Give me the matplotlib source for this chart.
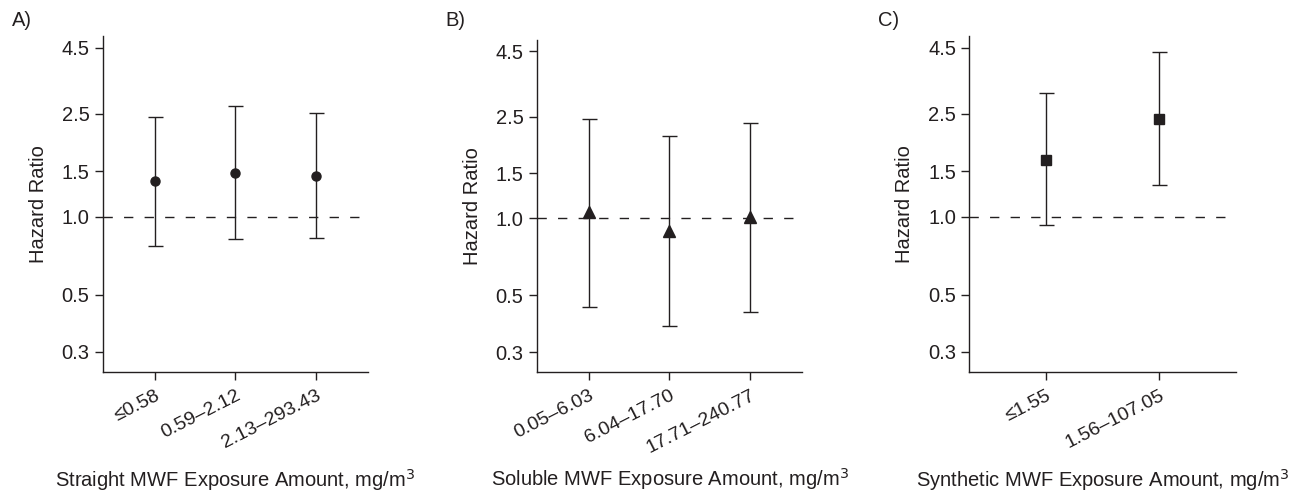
"""Hazard ratios by MWF exposure category (three panels, log y)."""

import matplotlib

matplotlib.use("Agg")
import matplotlib.pyplot as plt

# Panel A: straight MWF
A_LABELS = ["≤0.58", "0.59–2.12", "2.13–293.43"]
A_HR = [1.37, 1.48, 1.44]
A_LO = [0.77, 0.82, 0.83]
A_HI = [2.43, 2.67, 2.51]

# Panel B: soluble MWF
B_LABELS = ["0.05–6.03", "6.04–17.70", "17.71–240.77"]
B_HR = [1.06, 0.89, 1.01]
B_LO = [0.45, 0.38, 0.43]
B_HI = [2.44, 2.10, 2.36]

# Panel C: synthetic MWF
C_LABELS = ["≤1.55", "1.56–107.05"]
C_HR = [1.66, 2.38]
C_LO = [0.93, 1.33]
C_HI = [3.01, 4.32]

YTICKS = [0.3, 0.5, 1.0, 1.5, 2.5, 4.5]
INK = "#231f20"

PANELS = [
    ("A)", A_LABELS, A_HR, A_LO, A_HI, "o", 6.5,
     "Straight MWF Exposure Amount, mg/m$^3$", [0.0788, 0.2448, 0.2038, 0.682],
     (12, 20)),
    ("B)", B_LABELS, B_HR, B_LO, B_HI, "^", 8.4,
     "Soluble MWF Exposure Amount, mg/m$^3$", [0.4119, 0.2448, 0.2038, 0.675],
     (445, 20)),
    ("C)", C_LABELS, C_HR, C_LO, C_HI, "s", 7.4,
     "Synthetic MWF Exposure Amount, mg/m$^3$", [0.7439, 0.2448, 0.2045, 0.682],
     (878, 20)),
]
W, H = 1303, 493


def main() -> None:
    plt.rcParams.update({
        "font.family": ["Liberation Sans", "DejaVu Sans"],
        "font.size": 14.5,
        "axes.linewidth": 1.0,
    })
    fig = plt.figure(figsize=(W / 100, H / 100), dpi=100)

    for tag, labels, hr, lo, hi, marker, ms, xlabel, rect, tag_xy in PANELS:
        ax = fig.add_axes(rect)
        xs = list(range(1, len(hr) + 1))
        yerr = [[h - l for h, l in zip(hr, lo)], [u - h for h, u in zip(hr, hi)]]
        ax.errorbar(xs, hr, yerr=yerr, fmt=marker, ms=ms, color=INK,
                    ecolor=INK, elinewidth=1.0, capsize=5.4, capthick=1.0,
                    zorder=3)
        pad = 0.65 if len(hr) == 3 else 0.67
        ax.set_xlim(1 - pad, len(hr) + pad)
        ax.axhline(1.0, xmin=0, xmax=0.97, color=INK, lw=1.0,
                   dashes=(6.7, 8.1), zorder=1)

        ax.set_yscale("log")
        ax.set_ylim(0.25, 5.0)
        ax.set_yticks(YTICKS)
        ax.set_yticklabels([f"{t:.1f}" for t in YTICKS])
        ax.minorticks_off()
        ax.set_xticks(xs)
        ax.set_xticklabels(labels, rotation=27, ha="right", va="top",
                           rotation_mode="anchor", fontsize=14)
        ax.tick_params(direction="out", length=6, width=1.0, color=INK,
                       labelcolor=INK)
        ax.tick_params(axis="x", pad=4.5)
        for side in ("top", "right"):
            ax.spines[side].set_visible(False)
        for side in ("left", "bottom"):
            ax.spines[side].set_color(INK)

        ax.set_ylabel("Hazard Ratio", color=INK, labelpad=10)
        ax.set_xlabel(xlabel, color=INK)
        ax.xaxis.set_label_coords(0.5, -0.283)
        fig.text(tag_xy[0] / W, 1 - tag_xy[1] / H, tag, color=INK,
                 ha="left", va="center", fontsize=14.5)

    fig.savefig("out.png", dpi=100)


if __name__ == "__main__":
    main()
